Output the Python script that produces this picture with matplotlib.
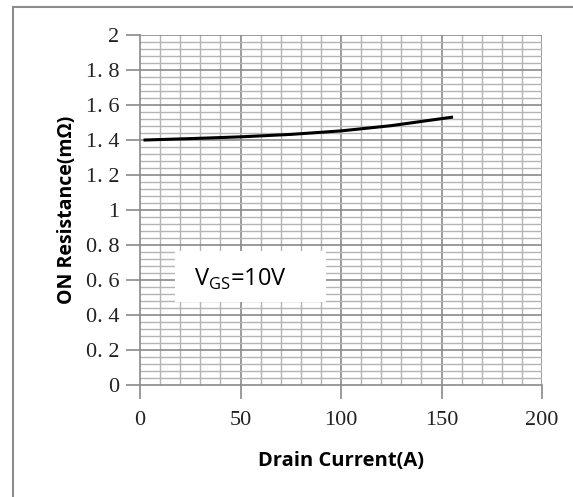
import numpy as np
import matplotlib
matplotlib.use("Agg")
import matplotlib.pyplot as plt
from matplotlib.lines import Line2D
from matplotlib.patches import Rectangle

# Data
drain_current = [2.5, 25, 50, 75, 100, 125, 150, 155]
on_resistance = [1.400, 1.408, 1.418, 1.432, 1.452, 1.482, 1.522, 1.530]

x_ticks = [0, 50, 100, 150, 200]
y_ticks = [0, 0.2, 0.4, 0.6, 0.8, 1.0, 1.2, 1.4, 1.6, 1.8, 2.0]
y_tick_labels = ["0", "0. 2", "0. 4", "0. 6", "0. 8", "1", "1. 2", "1. 4", "1. 6", "1. 8", "2"]

W, H = 573, 497
fig = plt.figure(figsize=(W / 100, H / 100), dpi=100)

# outer frame (only top and left visible)
fig.add_artist(Line2D([13 / W, 13 / W], [0, 1 - 7 / H], color="#8c8c8c", lw=1.5))
fig.add_artist(Line2D([13 / W, 1], [1 - 7 / H, 1 - 7 / H], color="#8c8c8c", lw=1.5))

ax = fig.add_axes([140 / W, 1 - 385 / H, 402 / W, 350 / H])
ax.set_xlim(0, 200)
ax.set_ylim(0, 2)

# grid: minor every 10 A / 0.04 mOhm, major every 50 A / 0.2 mOhm
for x in np.arange(10, 201, 10):
    major = x % 50 == 0
    ax.axvline(x, color="#8a8a8a" if major else "#b4b4b4", lw=1.2 if major else 1.0, zorder=1)
for y in np.arange(0.04, 2.001, 0.04):
    major = abs(y / 0.2 - round(y / 0.2)) < 1e-6
    ax.axhline(y, color="#8a8a8a" if major else "#b4b4b4", lw=1.2 if major else 1.0, zorder=1)

ax.plot(drain_current, on_resistance, color="black", lw=2.2, zorder=3)

for s in ["top", "right"]:
    ax.spines[s].set_visible(False)
for s in ["left", "bottom"]:
    ax.spines[s].set_color("#8a8a8a")
    ax.spines[s].set_linewidth(1.2)

ax.set_xticks(x_ticks)
ax.set_yticks(y_ticks)
ax.set_yticklabels(y_tick_labels)
ax.tick_params(direction="out", length=10, width=1.2, color="#8a8a8a",
               labelsize=16, pad=5)
for lab in ax.get_xticklabels() + ax.get_yticklabels():
    lab.set_fontfamily("Liberation Serif")
    lab.set_color("#222222")
ax.tick_params(axis="x", pad=9)

ax.set_xlabel("Drain Current(A)", fontfamily="Open Sans", fontweight="bold",
              fontsize=14.5, labelpad=15)
ax.set_ylabel("ON Resistance(m\u03a9)", fontfamily="Open Sans", fontweight="bold",
              fontsize=14, labelpad=6)

# annotation box (white patch hiding the grid)
box_x0 = (175 - 140) / 402 * 200
box_y0 = (385 - 302) / 350 * 2
box_w = (326 - 175) / 402 * 200
box_h = (302 - 251) / 350 * 2
ax.add_patch(Rectangle((box_x0, box_y0), box_w, box_h,
                       facecolor="white", edgecolor="none", zorder=2))
ax.text((240 - 140) / 402 * 200, (385 - 279) / 350 * 2,
        r"V$_{\mathregular{GS}}$=10V", fontfamily="Open Sans", fontsize=17,
        ha="center", va="center", zorder=4)

fig.savefig("out.png", dpi=100)
